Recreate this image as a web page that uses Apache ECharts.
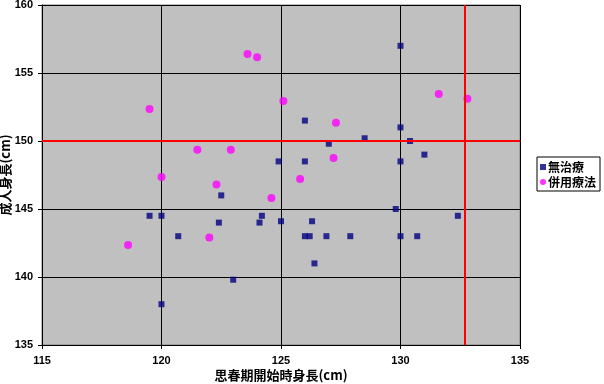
<!DOCTYPE html>
<html><head><meta charset="utf-8">
<script src="https://cdn.jsdelivr.net/npm/echarts@6/dist/echarts.min.js"></script>
<style>html,body{margin:0;padding:0;background:#fff}#c{width:604px;height:384px}</style>
</head><body><div id="c"></div>
<script>
const seriesNames = ['無治療', '併用療法'];
const noTreatX = [130.0,126.0,130.0,128.5,130.4,127.0,131.0,124.9,126.0,130.0,122.5,129.8,119.5,120.0,124.2,132.4,122.4,124.1,125.0,126.3,120.7,126.0,126.2,126.9,127.9,130.0,130.7,126.4,123.0,120.0];
const noTreatY = [157.0,151.5,151.0,150.2,150.0,149.8,149.0,148.5,148.5,148.5,146.0,145.0,144.5,144.5,144.5,144.5,144.0,144.0,144.1,144.1,143.0,143.0,143.0,143.0,143.0,143.0,143.0,141.0,139.8,138.0];
const comboX = [123.6,124.0,125.1,119.5,121.5,122.9,120.0,131.6,132.8,127.3,127.2,125.8,122.3,124.6,122.0,118.6];
const comboY = [156.4,156.15,152.95,152.35,149.35,149.35,147.35,153.45,153.1,151.35,148.75,147.2,146.8,145.8,142.9,142.35];
const xTicks = [115,120,125,130,135];
const yTicks = [135,140,145,150,155,160];
const refY = 150;
const refX = 132.7;

const chart = echarts.init(document.getElementById('c'));
const pts = (xs, ys) => xs.map((x, i) => [x, ys[i]]);
const fontJP = '"Noto Sans CJK JP", sans-serif';
const fontNum = '"Liberation Sans Narrow", "Liberation Sans", sans-serif';
chart.setOption({
  animation: false,
  grid: { left: 42, top: 5, width: 478, height: 340, containLabel: false, outerBoundsMode: 'none',
    show: true, backgroundColor: '#C0C0C0', borderColor: '#808080', borderWidth: 1 },
  legend: {
    orient: 'vertical', left: 537, top: 157, padding: [4, 4, 3, 3], itemGap: 3,
    itemWidth: 6, itemHeight: 6, borderColor: '#000', borderWidth: 1, backgroundColor: '#fff',
    textStyle: { fontFamily: fontJP, fontWeight: 'bold', fontSize: 12, color: '#000', padding: [0, 0, 0, -3] },
    data: [{ name: seriesNames[0], icon: 'rect' }, { name: seriesNames[1], icon: 'circle' }]
  },
  xAxis: {
    type: 'value', min: xTicks[0], max: xTicks[xTicks.length - 1], interval: 5,
    name: '思春期開始時身長(cm)', nameLocation: 'middle', nameGap: 24, nameMoveOverlap: false,
    nameTextStyle: { fontFamily: fontJP, fontWeight: 'bold', fontSize: 13, color: '#000' },
    axisLine: { show: true, lineStyle: { color: '#000', width: 1 } },
    axisTick: { show: true, length: 4, lineStyle: { color: '#000' } },
    axisLabel: { fontFamily: fontNum, fontWeight: 'bold', fontSize: 11, color: '#000', margin: 10 },
    splitLine: { show: true, lineStyle: { color: '#000', width: 1 } }
  },
  yAxis: {
    type: 'value', min: yTicks[0], max: yTicks[yTicks.length - 1], interval: 5,
    name: '成人身長(cm)', nameLocation: 'middle', nameGap: 30, nameRotate: 90, nameMoveOverlap: false,
    nameTextStyle: { fontFamily: fontJP, fontWeight: 'bold', fontSize: 13, color: '#000' },
    axisLine: { show: true, lineStyle: { color: '#000', width: 1 } },
    axisTick: { show: true, length: 4, lineStyle: { color: '#000' } },
    axisLabel: { fontFamily: fontNum, fontWeight: 'bold', fontSize: 11, color: '#000', margin: 9 },
    splitLine: { show: true, lineStyle: { color: '#000', width: 1 } }
  },
  series: [
    { name: seriesNames[0], type: 'scatter', symbol: 'rect', symbolSize: 6,
      itemStyle: { color: '#000080' }, data: pts(noTreatX, noTreatY), z: 3,
      markLine: { silent: true, symbol: 'none', label: { show: false },
        lineStyle: { color: '#FF0000', width: 2, type: 'solid' },
        data: [{ yAxis: refY }, { xAxis: refX }] } },
    { name: seriesNames[1], type: 'scatter', symbol: 'circle', symbolSize: 8,
      itemStyle: { color: '#FF00FF' }, data: pts(comboX, comboY), z: 4 }
  ]
});
</script></body></html>
